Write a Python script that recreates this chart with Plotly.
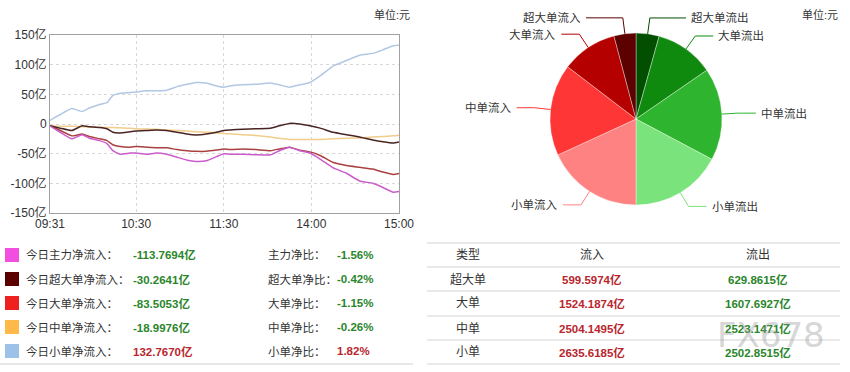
import math
import plotly.graph_objects as go

W, H = 850, 372

# ---------------- line chart data (trading-minute index, values in 亿) ----------------
minute_idx = [1, 8, 16, 23, 28, 35, 40, 44, 49, 56, 60, 67, 74, 81, 88, 95, 101, 108, 115, 120,
              124, 133, 142, 152, 158, 165, 172, 179, 186, 195, 204, 213, 222, 229, 236, 240]
main_net = [-3, -14, -25, -18, -24, -28, -33, -45, -51, -49, -49, -51, -49, -51, -56, -61, -63, -62, -55, -50,
            -51, -51, -52, -52, -45, -39, -45, -49, -59, -74, -83, -96, -100, -107, -115, -113.77]
super_net = [-3, -7, -11, -3, -4.5, -6, -8, -14, -15, -13, -12, -11, -10, -11, -14, -17, -18.5, -17, -14, -11,
             -10, -9, -8, -7, -3, 1, 0, -3, -7, -14, -18, -22, -27, -30, -32, -30.26]
large_net = [-3, -11, -20, -17, -21, -25, -28, -35, -38, -39, -38, -39, -40, -40, -43, -45, -46, -46, -44, -42,
             -43, -42, -43, -45, -42, -39, -44, -47, -53, -65, -70, -73, -76, -81, -85, -83.51]
medium_net = [-3, -4, -4, -4.5, -5, -5.5, -6, -6, -6.5, -7, -8, -8.5, -9, -10, -11, -12, -13, -14, -15, -16,
              -16.5, -18, -19.5, -22, -24, -26, -26, -26, -26, -25, -24, -23.5, -22, -21, -20, -19]
small_net = [6, 16, 26, 21, 27, 33, 36, 48, 52, 53, 54, 56, 56, 57, 63, 67, 70, 69, 64, 62,
             64, 66, 67, 69, 66, 62, 66, 70, 81, 98, 107, 116, 119, 125, 132, 132.77]

x_tick_idx = [1, 60, 120, 180, 240]
x_tick_text = ["09:31", "10:30", "11:30", "14:00", "15:00"]
y_tick_vals = [150, 100, 50, 0, -50, -100, -150]
y_tick_text = ["150亿", "100亿", "50亿", "0", "-50亿", "-100亿", "-150亿"]

# ---------------- legend / summary data ----------------
series_names = ["今日主力净流入：", "今日超大单净流入：", "今日大单净流入：", "今日中单净流入：", "今日小单净流入："]
net_values = [-113.7694, -30.2641, -83.5053, -18.9976, 132.7670]
ratio_names = ["主力净比：", "超大单净比：", "大单净比：", "中单净比：", "小单净比："]
ratio_values = [-1.56, -0.42, -1.15, -0.26, 1.82]

# ---------------- table / pie data ----------------
order_types = ["超大单", "大单", "中单", "小单"]
inflow = [599.5974, 1524.1874, 2504.1495, 2635.6185]
outflow = [629.8615, 1607.6927, 2523.1471, 2502.8515]
table_header = ["类型", "流入", "流出"]

# ---------------- styles ----------------
FONT = "Liberation Sans, Arial, Noto Sans CJK SC, sans-serif"
legend_colors = ["#f24ee0", "#5a0000", "#ee2020", "#ffb84a", "#9cc2ea"]
line_colors = ["#cc5ccc", "#4a2424", "#aa4040", "#f0cd8a", "#b2c8e2"]
out_colors = ["#024f02", "#0f8a0f", "#2eb42e", "#7be37b"]
in_colors = ["#5c0000", "#b50000", "#ff3636", "#ff8282"]
RED = "#b8262e"
GREEN = "#2a862a"
TXT = "#333333"


def px(x, y):
    return x / W, 1 - y / H


fig = go.Figure()

# ---------------- line chart ----------------
series_vals = [main_net, super_net, large_net, medium_net, small_net]
for vals, col in zip(series_vals[::-1], line_colors[::-1]):
    fig.add_trace(go.Scatter(x=minute_idx, y=vals, mode="lines",
                             line=dict(color=col, width=1.5, shape="spline", smoothing=0.4),
                             hoverinfo="skip", showlegend=False, xaxis="x", yaxis="y"))

ax_l, ax_r, ax_t, ax_b = 50, 399, 35, 213
fig.update_layout(
    xaxis=dict(domain=[ax_l / W, ax_r / W], range=[1, 240], tickvals=x_tick_idx, ticktext=x_tick_text,
               showgrid=True, gridcolor="#d8d8d8", griddash="dot", gridwidth=1, automargin=False,
               showline=True, linecolor="#a0a0a0", mirror=True, ticks="", zeroline=False,
               tickfont=dict(family=FONT, size=12, color=TXT), anchor="y"),
    yaxis=dict(domain=[1 - ax_b / H, 1 - ax_t / H], range=[-150, 150], tickvals=y_tick_vals,
               ticktext=y_tick_text, showgrid=True, gridcolor="#d8d8d8", griddash="dot", gridwidth=1,
               showline=True, linecolor="#a0a0a0", mirror=True, ticks="", zeroline=False, automargin=False,
               tickfont=dict(family=FONT, size=12, color=TXT), anchor="x"),
)

annotations = []
shapes = []

# unit labels
for ux in (412, 840):
    x, y = px(ux, 15)
    annotations.append(dict(x=x, y=y, xref="paper", yref="paper", text="单位:元", showarrow=False,
                            xanchor="right", yanchor="middle", font=dict(family=FONT, size=11, color=TXT)))

# ---------------- left legend block ----------------
row_y = [255, 279, 303, 327, 351]
for i in range(5):
    yy = row_y[i]
    x0, y0 = px(5, yy - 7)
    x1, y1 = px(19, yy + 7)
    shapes.append(dict(type="rect", xref="paper", yref="paper", x0=x0, x1=x1, y0=y1, y1=y0,
                       fillcolor=legend_colors[i], line=dict(width=0)))
    vcol = RED if net_values[i] > 0 else GREEN
    rcol = RED if ratio_values[i] > 0 else GREEN
    for tx, text, col, bold in [
        (24, series_names[i], TXT, False),
        (131, f"{net_values[i]:.4f}亿", vcol, True),
        (266, ratio_names[i], TXT, False),
        (335, f"{ratio_values[i]:.2f}%", rcol, True),
    ]:
        x, y = px(tx, yy)
        annotations.append(dict(x=x, y=y, xref="paper", yref="paper",
                                text=f"<b>{text}</b>" if bold else text, showarrow=False,
                                xanchor="left", yanchor="middle",
                                font=dict(family=FONT, size=11.5, color=col)))

lx0, ly = px(0, 364)
lx1, _ = px(413, 364)
shapes.append(dict(type="line", xref="paper", yref="paper", x0=lx0, x1=lx1, y0=ly, y1=ly,
                   line=dict(color="#d0d0d0", width=1)))

# ---------------- right table ----------------
for ly_px in [243, 267, 291, 316, 340, 364]:
    a, b = px(427, ly_px)
    c, _ = px(840, ly_px)
    shapes.append(dict(type="line", xref="paper", yref="paper", x0=a, x1=c, y0=b, y1=b,
                       line=dict(color="#d4d4d4", width=1)))

col_x = [468, 592, 758]
for cx, text in zip(col_x, table_header):
    x, y = px(cx, 255)
    annotations.append(dict(x=x, y=y, xref="paper", yref="paper", text=text, showarrow=False,
                            xanchor="center", yanchor="middle", font=dict(family=FONT, size=12, color=TXT)))
trow_y = [279, 303, 328, 352]
for i in range(4):
    yy = trow_y[i]
    for cx, text, col, bold in [(col_x[0], order_types[i], TXT, False),
                                (col_x[1], f"{inflow[i]:.4f}亿", RED, True),
                                (col_x[2], f"{outflow[i]:.4f}亿", GREEN, True)]:
        x, y = px(cx, yy)
        annotations.append(dict(x=x, y=y, xref="paper", yref="paper",
                                text=f"<b>{text}</b>" if bold else text, showarrow=False,
                                xanchor="center", yanchor="middle",
                                font=dict(family=FONT, size=12 if not bold else 11.5, color=col)))

# watermark
x, y = px(771, 335)
annotations.append(dict(x=x, y=y, xref="paper", yref="paper", text="FX678", showarrow=False,
                        xanchor="center", yanchor="middle",
                        font=dict(family="DejaVu Sans, sans-serif", size=34, color="rgba(150,150,150,0.4)")))

# ---------------- pie ----------------
pie_labels = [t + "流出" for t in order_types] + [t + "流入" for t in order_types[::-1]]
pie_values = outflow + inflow[::-1]
pie_colors = out_colors + in_colors[::-1]

cx_p, cy_p, R = 636, 119, 86
fig.add_trace(go.Pie(labels=pie_labels, values=pie_values, sort=False, direction="clockwise", rotation=0,
                     marker=dict(colors=pie_colors, line=dict(color="rgba(255,255,255,0.6)", width=0.6)),
                     textinfo="none", hoverinfo="label+value", showlegend=False,
                     domain=dict(x=[(cx_p - R) / W, (cx_p + R) / W], y=[1 - (cy_p + R) / H, 1 - (cy_p - R) / H])))

total = sum(pie_values)
cum = 0.0
L1, L2 = 16, 18
for lab, val, col in zip(pie_labels, pie_values, pie_colors):
    mid = (cum + val / 2) / total * 2 * math.pi
    cum += val
    sx, sy = math.sin(mid), -math.cos(mid)
    p1 = (cx_p + R * sx, cy_p + R * sy)
    p2 = (cx_p + (R + L1) * sx, cy_p + (R + L1) * sy)
    side = 1 if sx >= 0 else -1
    # labels near the vertical axis are pushed sideways so they clear their neighbours
    extra = max(0.0, 32 - abs(p2[0] - cx_p))
    p3 = (p2[0] + side * (L2 + extra), p2[1])
    pts = [px(*p1), px(*p2), px(*p3)]
    path = "M {} {} L {} {} L {} {}".format(pts[0][0], pts[0][1], pts[1][0], pts[1][1], pts[2][0], pts[2][1])
    shapes.append(dict(type="path", xref="paper", yref="paper", path=path, line=dict(color=col, width=1)))
    tx, ty = px(p3[0] + side * 3, p3[1])
    annotations.append(dict(x=tx, y=ty, xref="paper", yref="paper", text=lab, showarrow=False,
                            xanchor="left" if side > 0 else "right", yanchor="middle",
                            font=dict(family=FONT, size=11.5, color=TXT)))

fig.update_layout(
    width=W, height=H, margin=dict(l=0, r=0, t=0, b=0, autoexpand=False),
    paper_bgcolor="white", plot_bgcolor="white",
    annotations=annotations, shapes=shapes, showlegend=False,
)

fig.write_html("out.html", config={"displayModeBar": False},
               post_script="document.body.style.margin='0';document.body.style.padding='0';")
